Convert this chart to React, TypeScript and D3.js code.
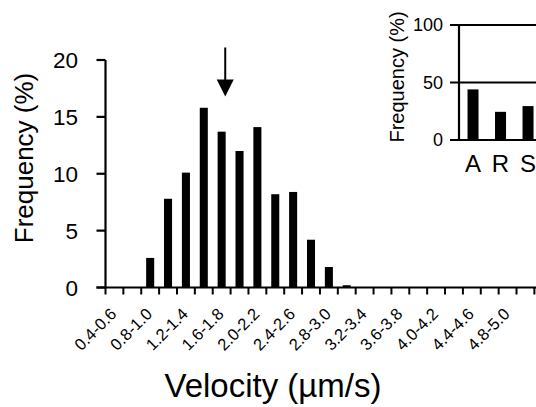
import React, { useEffect, useRef } from "react";
import * as d3 from "d3";

// Main histogram: velocity bins (µm/s) and frequency (%)
const binLabels = [
  "0.4-0.6", "0.6-0.8", "0.8-1.0", "1.0-1.2", "1.2-1.4", "1.4-1.6", "1.6-1.8",
  "1.8-2.0", "2.0-2.2", "2.2-2.4", "2.4-2.6", "2.6-2.8", "2.8-3.0", "3.0-3.2",
  "3.2-3.4", "3.4-3.6", "3.6-3.8", "3.8-4.0", "4.0-4.2", "4.2-4.4", "4.4-4.6",
  "4.6-4.8", "4.8-5.0", "5.0-5.2",
];
const frequencies = [
  0, 0, 2.6, 7.8, 10.1, 15.8, 13.7, 12.0, 14.1, 8.2, 8.4, 4.2, 1.8, 0.2,
  0, 0, 0, 0, 0, 0, 0, 0, 0, 0,
];
const yTicks = [0, 5, 10, 15, 20];
const binStart = 0.4;
const binWidth = 0.2;

// Arrow marking the mean velocity
const arrowVelocity = 1.74;
const arrowTop = 21.1;
const arrowTip = 16.8;

// Inset: category frequencies (%)
const insetCategories = ["A", "R", "S"];
const insetValues = [44, 24.5, 29.5];
const insetTicks = [0, 50, 100];

const FONT = "'Liberation Sans', Arial, Helvetica, sans-serif";

export default function App() {
  const ref = useRef<SVGSVGElement | null>(null);

  useEffect(() => {
    const svg = d3.select(ref.current);
    svg.selectAll("*").remove();

    // ---------- main chart ----------
    const x0 = 105.5;
    const step = 17.87;
    const x = d3
      .scaleBand<string>()
      .domain(binLabels)
      .range([x0, x0 + step * binLabels.length])
      .paddingInner(0.55)
      .paddingOuter(0.275);
    const y = d3.scaleLinear().domain([0, 20]).range([287.5, 60]);
    const xv = d3
      .scaleLinear()
      .domain([binStart, binStart + binWidth * binLabels.length])
      .range([x0, x0 + step * binLabels.length]);

    const g = svg.append("g");

    // bars
    g.selectAll("rect.bar")
      .data(frequencies)
      .join("rect")
      .attr("class", "bar")
      .attr("x", (_d, i) => x(binLabels[i]) as number)
      .attr("width", x.bandwidth())
      .attr("y", (d) => y(d))
      .attr("height", (d) => y(0) - y(d))
      .attr("fill", "#000");

    // y axis
    g.append("line")
      .attr("x1", x0).attr("x2", x0)
      .attr("y1", y(20)).attr("y2", y(0))
      .attr("stroke", "#000").attr("stroke-width", 2.2);
    yTicks.forEach((t) => {
      g.append("line")
        .attr("x1", x0 - 9).attr("x2", x0)
        .attr("y1", y(t)).attr("y2", y(t))
        .attr("stroke", "#000").attr("stroke-width", 2.2);
      g.append("text")
        .attr("x", 78).attr("y", y(t))
        .attr("dy", "0.36em")
        .attr("text-anchor", "end")
        .attr("font-family", FONT)
        .attr("font-size", 22.5)
        .text(String(t));
    });

    // x axis
    g.append("line")
      .attr("x1", x0 - 9).attr("x2", 540)
      .attr("y1", y(0)).attr("y2", y(0))
      .attr("stroke", "#000").attr("stroke-width", 2.2);
    d3.range(binLabels.length + 1).forEach((i) => {
      const bx = xv(binStart + i * binWidth);
      g.append("line")
        .attr("x1", bx).attr("x2", bx)
        .attr("y1", y(0)).attr("y2", y(0) + 7)
        .attr("stroke", "#000").attr("stroke-width", 2);
    });
    binLabels.forEach((lab, i) => {
      if (i % 2 !== 0) return;
      const cx = (x(lab) as number) + x.bandwidth() / 2;
      g.append("text")
        .attr("transform", `translate(${cx - 1},311) rotate(-45)`)
        .attr("dy", "0.35em")
        .attr("text-anchor", "end")
        .attr("font-family", FONT)
        .attr("font-size", 16.5)
        .text(lab);
    });

    // axis titles
    g.append("text")
      .attr("transform", `translate(33,158) rotate(-90)`)
      .attr("text-anchor", "middle")
      .attr("font-family", FONT)
      .attr("font-size", 26)
      .text("Frequency (%)");
    g.append("text")
      .attr("x", 273).attr("y", 397)
      .attr("text-anchor", "middle")
      .attr("font-family", FONT)
      .attr("font-size", 33)
      .text("Velocity (µm/s)");

    // arrow
    const ax = xv(arrowVelocity);
    const headH = 17;
    g.append("line")
      .attr("x1", ax).attr("x2", ax)
      .attr("y1", y(arrowTop)).attr("y2", y(arrowTip) - headH + 1)
      .attr("stroke", "#000").attr("stroke-width", 2);
    g.append("path")
      .attr("d", d3.line()([
        [ax - 8.5, y(arrowTip) - headH],
        [ax + 8.5, y(arrowTip) - headH],
        [ax, y(arrowTip)],
      ]) + "Z")
      .attr("fill", "#000");

    // ---------- inset ----------
    const ix0 = 459;
    const istep = 27.5;
    const ix = d3
      .scaleBand<string>()
      .domain(insetCategories)
      .range([ix0, ix0 + istep * (insetCategories.length - 0.6 + 2 * 0.31)])
      .paddingInner(0.6)
      .paddingOuter(0.31)
      .align(0.5);
    const iy = d3.scaleLinear().domain([0, 100]).range([140, 25]);
    const ig = svg.append("g");

    ig.selectAll("rect")
      .data(insetValues)
      .join("rect")
      .attr("x", (_d, i) => ix(insetCategories[i]) as number)
      .attr("width", ix.bandwidth())
      .attr("y", (d) => iy(d))
      .attr("height", (d) => iy(0) - iy(d))
      .attr("fill", "#000");

    ig.append("line")
      .attr("x1", ix0).attr("x2", ix0)
      .attr("y1", iy(100)).attr("y2", iy(0))
      .attr("stroke", "#000").attr("stroke-width", 2.2);
    insetTicks.forEach((t) => {
      ig.append("line")
        .attr("x1", ix0 - 9).attr("x2", 540)
        .attr("y1", iy(t)).attr("y2", iy(t))
        .attr("stroke", "#000").attr("stroke-width", 2.2);
      ig.append("text")
        .attr("x", 443).attr("y", iy(t))
        .attr("dy", "0.36em")
        .attr("text-anchor", "end")
        .attr("font-family", FONT)
        .attr("font-size", 18)
        .text(String(t));
    });
    insetCategories.forEach((c) => {
      ig.append("text")
        .attr("x", (ix(c) as number) + ix.bandwidth() / 2)
        .attr("y", 172)
        .attr("text-anchor", "middle")
        .attr("font-family", FONT)
        .attr("font-size", 24)
        .text(c);
    });
    ig.append("text")
      .attr("transform", `translate(404,77) rotate(-90)`)
      .attr("text-anchor", "middle")
      .attr("font-family", FONT)
      .attr("font-size", 20)
      .text("Frequency (%)");
  }, []);

  return (
    <svg
      ref={ref}
      width={536}
      height={407}
      style={{ position: "absolute", left: 0, top: 0, background: "#fff" }}
    />
  );
}
